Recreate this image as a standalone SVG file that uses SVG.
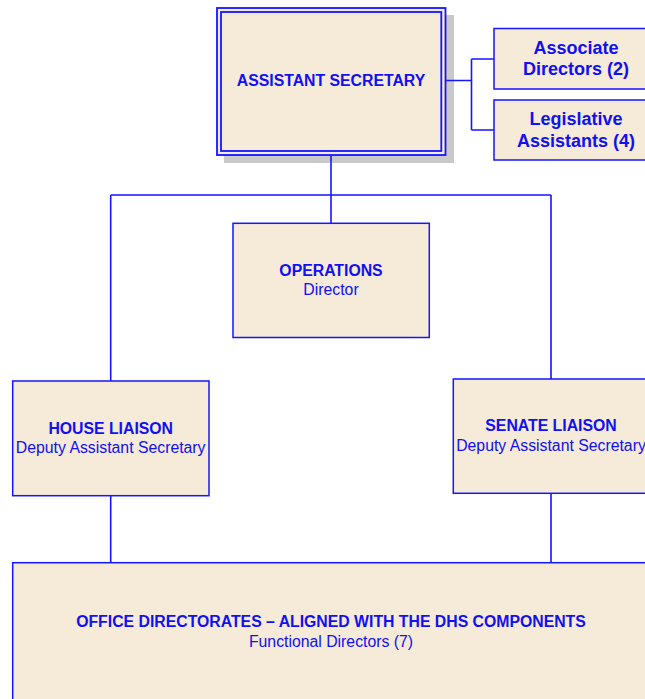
<svg xmlns="http://www.w3.org/2000/svg" width="645" height="699" viewBox="0 0 645 699">
<style>
.box{fill:#F6EAD8;stroke:#1515FF;stroke-width:1.5}
.conn{fill:none;stroke:#1515FF;stroke-width:1.6}
text{font-family:"Liberation Sans",Arial,sans-serif;fill:#1010F0;text-anchor:middle;font-size:15.8px}
.b{font-weight:bold}
.big{font-size:18px;font-weight:bold}
</style>
<rect width="645" height="699" fill="#FFFFFF"/>
<g id="assistant-secretary">
<rect x="224" y="15" width="230" height="148" fill="#C9C9C9"/>
<rect x="217" y="8" width="228.5" height="147" fill="#F6EAD8" stroke="#1515FF" stroke-width="1.8"/>
<rect x="221" y="12" width="220.3" height="139" fill="none" stroke="#1515FF" stroke-width="1.8"/>
<text class="b" x="331" y="86">ASSISTANT SECRETARY</text>
</g>
<g id="associate-directors">
<rect class="box" x="494" y="28.5" width="164" height="60.5"/>
<text class="big" x="576" y="54">Associate</text>
<text class="big" x="576" y="75">Directors (2)</text>
</g>
<g id="legislative-assistants">
<rect class="box" x="494" y="100" width="164" height="60"/>
<text class="big" x="576" y="125">Legislative</text>
<text class="big" x="576" y="146.7">Assistants (4)</text>
</g>
<g id="operations">
<rect class="box" x="233" y="223.3" width="196.3" height="114.2"/>
<text class="b" x="331" y="275.7">OPERATIONS</text>
<text x="331" y="295">Director</text>
</g>
<g id="house-liaison">
<rect class="box" x="12.7" y="381" width="196.3" height="114.7"/>
<text class="b" x="110.7" y="434">HOUSE LIAISON</text>
<text x="110.7" y="453">Deputy Assistant Secretary</text>
</g>
<g id="senate-liaison">
<rect class="box" x="453.3" y="379" width="196" height="114.3"/>
<text class="b" x="551" y="431.3">SENATE LIAISON</text>
<text x="551" y="451">Deputy Assistant Secretary</text>
</g>
<g id="office-directorates">
<rect class="box" x="12.7" y="562.7" width="637" height="150"/>
<text class="b" x="331" y="627.3">OFFICE DIRECTORATES – ALIGNED WITH THE DHS COMPONENTS</text>
<text x="331" y="646.7">Functional Directors (7)</text>
</g>
<g id="connectors">
<path class="conn" d="M446,80.5 H471.5 M471.5,59 V130 M471.5,59 H494 M471.5,130 H494"/>
<path class="conn" d="M331,156 V223 M110.7,195 H551 M110.7,195 V381 M551,195 V379"/>
<path class="conn" d="M110.7,496 V562 M551,494 V562"/>
</g>
</svg>
